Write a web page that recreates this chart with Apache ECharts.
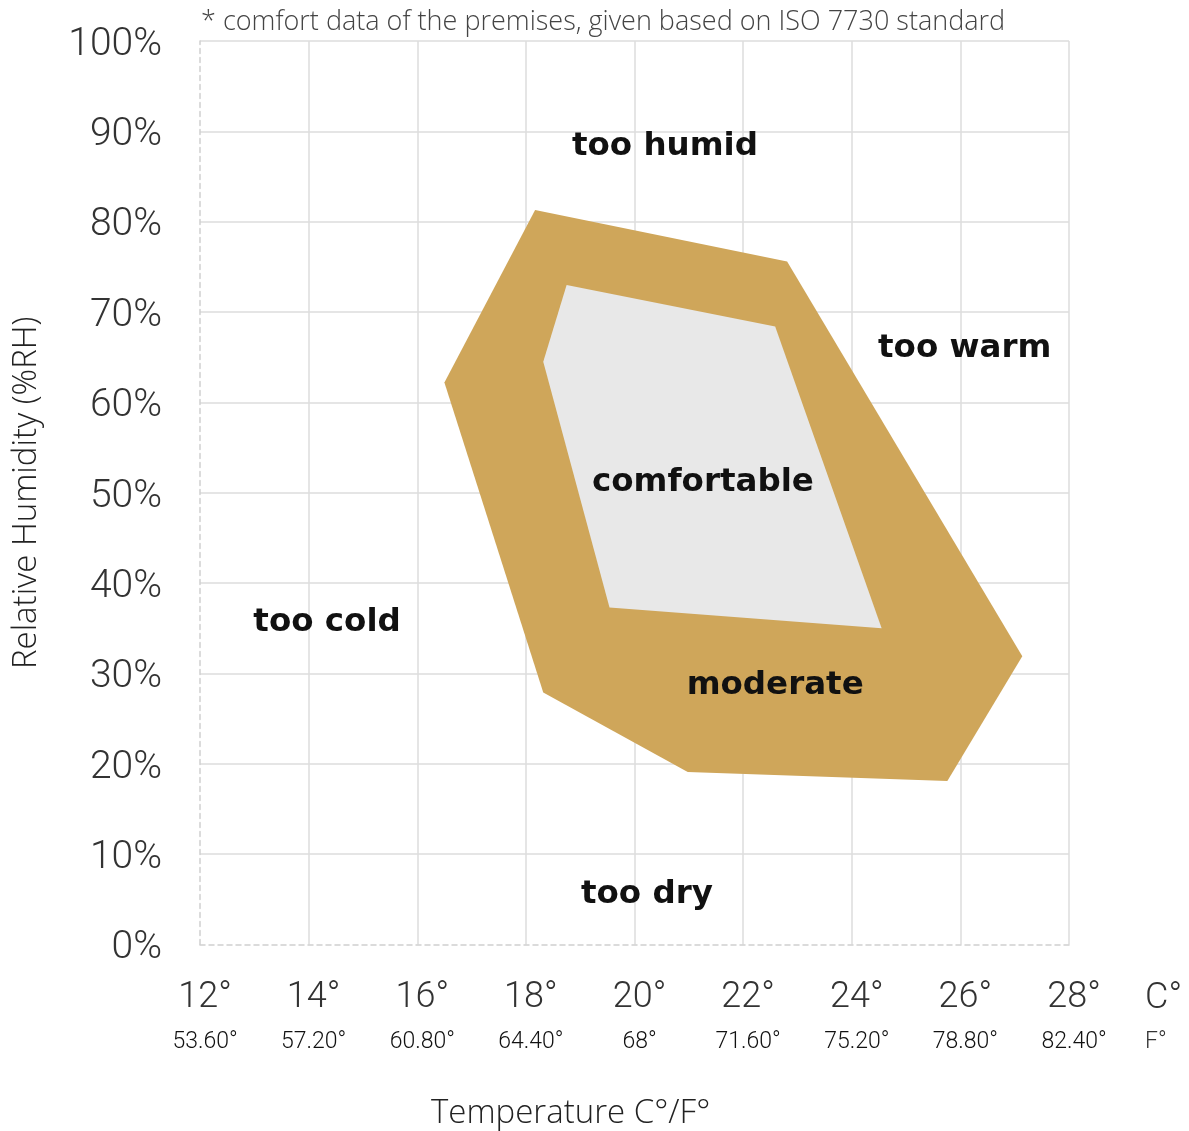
<!DOCTYPE html>
<html>
<head>
<meta charset="utf-8">
<script src="https://cdn.jsdelivr.net/npm/echarts@6/dist/echarts.min.js"></script>
<style>
html,body{margin:0;padding:0;background:#fff;}
#chart{width:1189px;height:1131px;}
</style>
</head>
<body>
<div id="chart"></div>
<script>
// Celsius ticks and their Fahrenheit labels
const celsiusTicks = [12, 14, 16, 18, 20, 22, 24, 26, 28];
const fahrenheitLabels = ['53.60°', '57.20°', '60.80°', '64.40°', '68°', '71.60°', '75.20°', '78.80°', '82.40°'];
const humidityTicks = [0, 10, 20, 30, 40, 50, 60, 70, 80, 90, 100];

// Zone polygons: [temperature °C, relative humidity %]
const moderateZone = [[18.17, 81.3], [22.81, 75.6], [27.14, 31.9], [25.76, 18.1], [20.98, 19.1], [18.32, 27.9], [16.50, 62.2]];
const comfortZone = [[18.75, 73.0], [22.59, 68.4], [24.55, 35.0], [19.54, 37.3], [18.32, 64.5]];

// Zone labels
const zoneNames = ['too humid', 'too warm', 'comfortable', 'too cold', 'moderate', 'too dry'];
const zoneLabelTemp = [20.56, 26.08, 21.26, 14.34, 22.59, 20.23];
const zoneLabelRH = [88.5, 66.2, 51.4, 35.8, 28.9, 5.7];

const LIGHT = 'Roboto, "Open Sans", sans-serif';
const WIDE = '"Open Sans", Roboto, sans-serif';
const BOLD = '"DejaVu Sans", sans-serif';

const chart = echarts.init(document.getElementById('chart'));

function polygonSeries(points, color) {
  return {
    type: 'custom',
    coordinateSystem: 'cartesian2d',
    data: points,
    silent: true,
    clip: false,
    renderItem: function (params, api) {
      if (params.dataIndex !== 0) return null;
      const pts = points.map(p => api.coord(p));
      return { type: 'polygon', shape: { points: pts }, style: { fill: color } };
    }
  };
}

const option = {
  backgroundColor: '#fff',
  animation: false,
  title: {
    text: '* comfort data of the premises, given based on ISO 7730 standard',
    left: 196, top: 4,
    textStyle: { fontFamily: WIDE, fontWeight: 300, fontSize: 27, color: '#444' }
  },
  grid: { left: 200, right: 120, top: 41, bottom: 186.5, containLabel: false, outerBoundsMode: 'none' },
  xAxis: {
    type: 'value', min: 12, max: 28, interval: 2,
    axisLine: { show: true, lineStyle: { color: '#d0d0d0', type: [5, 4], width: 1.5 } },
    axisTick: { show: false },
    splitLine: { show: true, showMinLine: false, lineStyle: { color: '#dcdcdc', width: 1.5 } },
    axisLabel: {
      margin: 30,
      formatter: function (v) {
        const i = celsiusTicks.indexOf(v);
        return '{c|' + v + '°}\n{f|' + (i >= 0 ? fahrenheitLabels[i] : '') + '}';
      },
      rich: {
        c: { fontFamily: LIGHT, fontWeight: 300, fontSize: 36, color: '#333', lineHeight: 46, padding: [0, 0, 0, 10] },
        f: { fontFamily: LIGHT, fontWeight: 300, fontSize: 23, color: '#111', lineHeight: 44, padding: [0, 0, 0, 10] }
      }
    }
  },
  yAxis: {
    type: 'value', min: 0, max: 100, interval: 10,
    axisLine: { show: true, lineStyle: { color: '#d0d0d0', type: [5, 4], width: 1.5 } },
    axisTick: { show: false },
    splitLine: { show: true, showMinLine: false, lineStyle: { color: '#dcdcdc', width: 1.5 } },
    axisLabel: {
      margin: 38, formatter: v => '{p|' + v + '%}',
      rich: {
        p: { fontFamily: LIGHT, fontWeight: 300, fontSize: 39, color: '#333', padding: [8, 0, 0, 0] }
      }
    },
    name: 'Relative Humidity (%RH)',
    nameLocation: 'middle', nameGap: 157, nameRotate: 90,
    nameTextStyle: { fontFamily: WIDE, fontWeight: 300, fontSize: 33, color: '#222' }
  },
  graphic: [
    { type: 'text', left: 1145, top: 981, style: { text: 'C°', font: '300 36px ' + LIGHT, fill: '#333' } },
    { type: 'text', left: 1145, top: 1031, style: { text: 'F°', font: '300 23px ' + LIGHT, fill: '#333' } },
    { type: 'text', left: 431, top: 1097, style: { text: 'Temperature C°/F°', font: '300 33px ' + WIDE, fill: '#222' } }
  ],
  series: [
    polygonSeries(moderateZone, '#CFA65A'),
    polygonSeries(comfortZone, '#E8E8E8'),
    {
      type: 'custom',
      coordinateSystem: 'cartesian2d',
      silent: true,
      clip: false,
      data: zoneNames.map((n, i) => ({ name: n, value: [zoneLabelTemp[i], zoneLabelRH[i]] })),
      renderItem: function (params, api) {
        const p = api.coord([api.value(0), api.value(1)]);
        return {
          type: 'text', x: p[0], y: p[1] + 2,
          style: {
            text: zoneNames[params.dataIndex],
            align: 'center', verticalAlign: 'middle',
            font: 'bold 32.5px ' + BOLD, fill: '#111'
          }
        };
      }
    }
  ]
};
chart.setOption(option);
</script>
</body>
</html>
